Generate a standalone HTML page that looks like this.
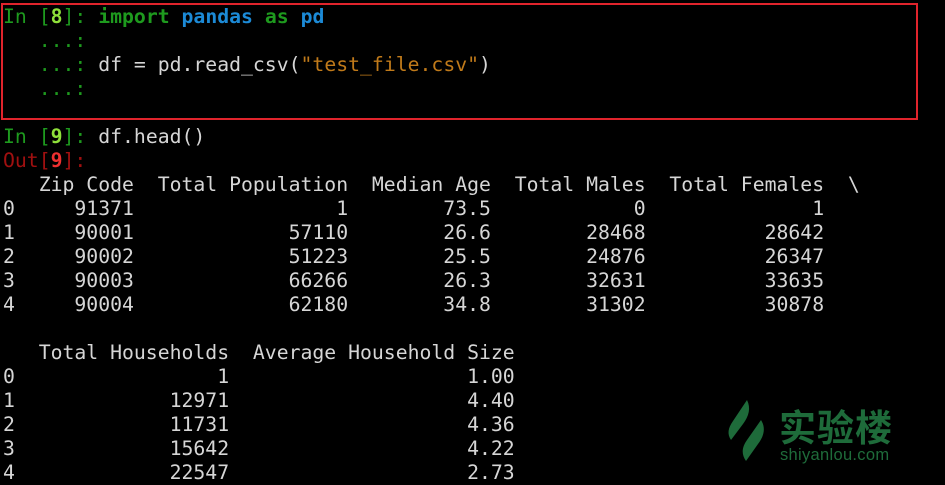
<!DOCTYPE html>
<html><head><meta charset="utf-8">
<style>
html,body{margin:0;padding:0;background:#000;width:945px;height:485px;overflow:hidden;position:relative}
pre{position:absolute;left:3px;top:5px;margin:0;font-family:"DejaVu Sans Mono","Liberation Mono",monospace;font-size:19.78px;line-height:24px;color:#d6d6d6;white-space:pre}
.g{color:#1e9a1e}.lg{color:#8fe03a;font-weight:bold}.b{color:#1c8ad6;font-weight:bold}.kw{color:#1e9a1e;font-weight:bold}
.s{color:#c07a1a}.r{color:#a01010}.lr{color:#ef3030;font-weight:bold}
#box{position:absolute;left:1px;top:3px;width:913px;height:113px;border:2px solid #e0242c}
#logo{position:absolute;left:725px;top:398px}
#logo-text{position:absolute;left:779px;top:403px;color:#1e6b3a;font-family:"Noto Sans CJK SC",sans-serif;font-size:37px;line-height:44px;font-weight:bold;letter-spacing:1px}
#logo-url{position:absolute;left:780px;top:445px;color:#1e6b3a;font-family:"Liberation Sans",sans-serif;font-size:16.5px;line-height:20px;letter-spacing:0.3px}
</style></head><body>
<div id="box"></div>
<pre><span class="g">In [</span><span class="lg">8</span><span class="g">]: </span><span class="kw">import</span> <span class="b">pandas</span> <span class="kw">as</span> <span class="b">pd</span>
<span class="g">   ...:</span>
<span class="g">   ...:</span> df = pd.read_csv(<span class="s">"test_file.csv"</span>)
<span class="g">   ...:</span>

<span class="g">In [</span><span class="lg">9</span><span class="g">]: </span>df.head()
<span class="r">Out[</span><span class="lr">9</span><span class="r">]:</span>
   Zip Code  Total Population  Median Age  Total Males  Total Females  \
0     91371                 1        73.5            0              1
1     90001             57110        26.6        28468          28642
2     90002             51223        25.5        24876          26347
3     90003             66266        26.3        32631          33635
4     90004             62180        34.8        31302          30878

   Total Households  Average Household Size
0                 1                    1.00
1             12971                    4.40
2             11731                    4.36
3             15642                    4.22
4             22547                    2.73</pre>
<svg id="logo" width="45" height="66" viewBox="0 0 45 66">
<path d="M22 2 C26 10 24 18 18 26 L6 42 C2 36 3 30 8 23 Z" fill="#1e6b3a"/>
<path d="M36 22 C41 30 39 38 33 46 L21 63 C16 56 17 49 22 42 Z" fill="#1e6b3a"/>
</svg>
<div id="logo-text">实验楼</div>
<div id="logo-url">shiyanlou.com</div>
</body></html>
